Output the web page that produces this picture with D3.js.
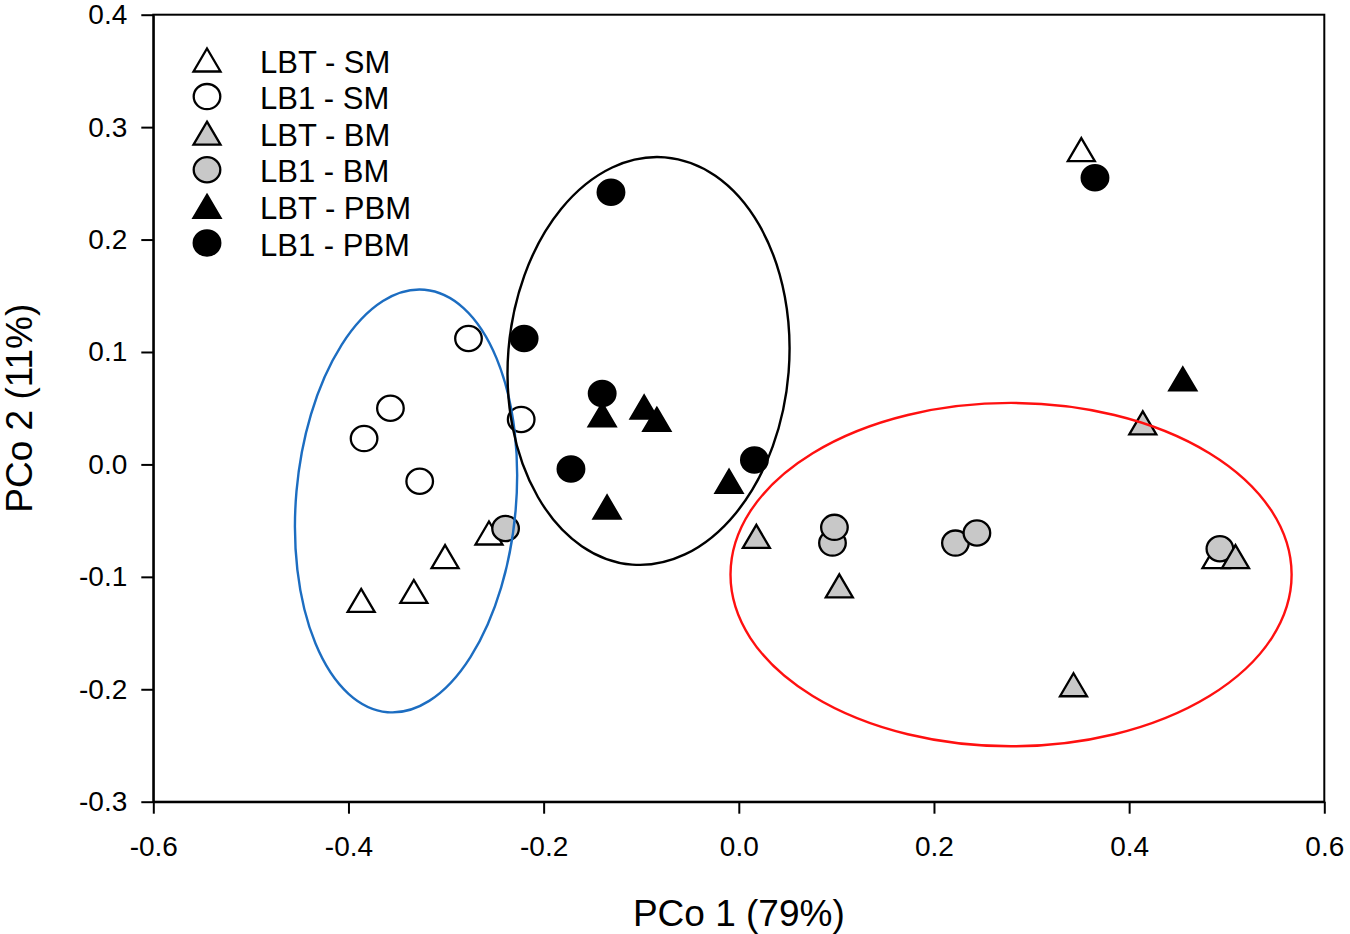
<!DOCTYPE html>
<html>
<head>
<meta charset="utf-8">
<script src="https://cdn.jsdelivr.net/npm/d3@7"></script>
<style>
    body { margin: 0; background: white; }
    text { font-family: "Liberation Sans", Arial, sans-serif; fill: black; }
</style>
</head>
<body>
<div id="graph"></div>
<script>
// data
const seriesNames = ["LBT - SM", "LB1 - SM", "LBT - BM", "LB1 - BM", "LBT - PBM", "LB1 - PBM"]
const seriesShapes = ["triangle", "circle", "triangle", "circle", "triangle", "circle"]
const seriesFills = ["white", "white", "#c8c8c8", "#c8c8c8", "black", "black"]

const lbtSM = [[0.351, 0.280], [-0.387, -0.121], [-0.333, -0.113], [-0.301, -0.082], [-0.256, -0.061], [0.489, -0.082]]
const lb1SM = [[-0.277, 0.112], [-0.357, 0.050], [-0.384, 0.023], [-0.327, -0.015], [-0.223, 0.040]]
const lbtBM = [[0.018, -0.064], [0.103, -0.108], [0.343, -0.196], [0.414, 0.037], [0.509, -0.082]]
const lb1BM = [[-0.239, -0.057], [0.096, -0.070], [0.098, -0.056], [0.222, -0.070], [0.244, -0.061], [0.493, -0.075]]
const lbtPBM = [[-0.140, 0.044], [-0.097, 0.051], [-0.084, 0.040], [-0.010, -0.015], [-0.135, -0.038], [0.455, 0.076]]
const lb1PBM = [[-0.131, 0.242], [-0.220, 0.112], [-0.140, 0.063], [-0.172, -0.004], [0.016, 0.004], [0.365, 0.255]]
const seriesPoints = [lbtSM, lb1SM, lbtBM, lb1BM, lbtPBM, lb1PBM]

// group ellipses: centre, semi axes (data units), tilt in degrees
const ellipseCenters = [[-0.341, -0.0325], [-0.0925, 0.092], [0.279, -0.098]]
const ellipseRadii = [[0.1127, 0.1886], [0.1440, 0.1817], [0.2875, 0.1527]]
const ellipseTilts = [5.0, 4.6, 0]
const ellipseColors = ["#1c6dc1", "black", "#ff1010"]

const xTicks = [-0.6, -0.4, -0.2, 0.0, 0.2, 0.4, 0.6]
const yTicks = [-0.3, -0.2, -0.1, 0.0, 0.1, 0.2, 0.3, 0.4]
const xTitle = "PCo 1 (79%)"
const yTitle = "PCo 2 (11%)"

let dimensions = {
    width: 1350,
    height: 934,
    margin: {
        top: 14.7,
        right: 25.7,
        bottom: 132.3,
        left: 153.3,
    },
}
dimensions.boundedWidth = dimensions.width
    - dimensions.margin.left
    - dimensions.margin.right
dimensions.boundedHeight = dimensions.height
    - dimensions.margin.top
    - dimensions.margin.bottom

const wrapper = d3.select("#graph")
    .append("svg")
    .attr("width", dimensions.width)
    .attr("height", dimensions.height)

const bounds = wrapper.append("g")
    .attr("transform", `translate(${dimensions.margin.left},${dimensions.margin.top})`)

// scales
const xScale = d3.scaleLinear()
    .domain([-0.6, 0.6])
    .range([0, dimensions.boundedWidth])
const yScale = d3.scaleLinear()
    .domain([-0.3, 0.4])
    .range([dimensions.boundedHeight, 0])

const triW = 27
const triH = 23
const trianglePath = `M0,${-triH / 2}L${triW / 2},${triH / 2}L${-triW / 2},${triH / 2}Z`

const drawMarker = (sel, shape, fill) => {
    if (shape == "triangle") {
        sel.append("path")
            .attr("d", trianglePath)
            .attr("fill", fill)
            .attr("stroke", "black")
            .attr("stroke-width", 2.3)
            .attr("stroke-linejoin", "miter")
    } else {
        sel.append("ellipse")
            .attr("rx", 13.3)
            .attr("ry", 12.6)
            .attr("fill", fill)
            .attr("stroke", "black")
            .attr("stroke-width", 2.3)
    }
}

// points, drawn in the original stacking order
const drawOrder = [0, 1, 3, 2, 4, 5]
drawOrder.forEach(i => {
    const g = bounds.append("g")
    seriesPoints[i].forEach(p => {
        const m = g.append("g")
            .attr("transform", `translate(${xScale(p[0])},${yScale(p[1])})`)
        drawMarker(m, seriesShapes[i], seriesFills[i])
    })
})

// ellipses on top
ellipseCenters.forEach((c, i) => {
    const cx = xScale(c[0])
    const cy = yScale(c[1])
    bounds.append("ellipse")
        .attr("cx", cx)
        .attr("cy", cy)
        .attr("rx", xScale(c[0] + ellipseRadii[i][0]) - cx)
        .attr("ry", cy - yScale(c[1] + ellipseRadii[i][1]))
        .attr("transform", `rotate(${ellipseTilts[i]},${cx},${cy})`)
        .attr("fill", "none")
        .attr("stroke", ellipseColors[i])
        .attr("stroke-width", 2.4)
})

// frame
bounds.append("rect")
    .attr("width", dimensions.boundedWidth)
    .attr("height", dimensions.boundedHeight)
    .attr("fill", "none")
    .attr("stroke", "black")
    .attr("stroke-width", 2)

// axes
const yAxis = bounds.append("g")
    .call(d3.axisLeft(yScale)
        .tickValues(yTicks)
        .tickFormat(d => d.toFixed(1))
        .tickSize(12)
        .tickSizeOuter(0)
        .tickPadding(14))
const xAxis = bounds.append("g")
    .attr("transform", `translate(0,${dimensions.boundedHeight})`)
    .call(d3.axisBottom(xScale)
        .tickValues(xTicks)
        .tickFormat(d => d.toFixed(1))
        .tickSize(12)
        .tickSizeOuter(0)
        .tickPadding(22))

;[xAxis, yAxis].forEach(ax => {
    ax.selectAll("path, line").attr("stroke", "black").attr("stroke-width", 2)
    ax.selectAll("text")
        .attr("fill", "black")
        .style("font-family", "'Liberation Sans', Arial, sans-serif")
        .style("font-size", "28px")
})

// axis titles
wrapper.append("text")
    .attr("x", dimensions.margin.left + dimensions.boundedWidth / 2)
    .attr("y", 926)
    .attr("text-anchor", "middle")
    .style("font-size", "37px")
    .text(xTitle)

wrapper.append("text")
    .attr("transform", `translate(32,${dimensions.margin.top + dimensions.boundedHeight / 2}) rotate(-90)`)
    .attr("text-anchor", "middle")
    .style("font-size", "37px")
    .text(yTitle)

// legend
const legend = wrapper.append("g")
seriesNames.forEach((name, i) => {
    const rowY = 61.5 + i * 36.6
    const sym = legend.append("g")
        .attr("transform", `translate(207,${rowY - 1.5})`)
    drawMarker(sym, seriesShapes[i], seriesFills[i])
    legend.append("text")
        .attr("x", 260)
        .attr("y", rowY)
        .attr("dy", "0.36em")
        .style("font-size", "31px")
        .text(name)
})
</script>
</body>
</html>
